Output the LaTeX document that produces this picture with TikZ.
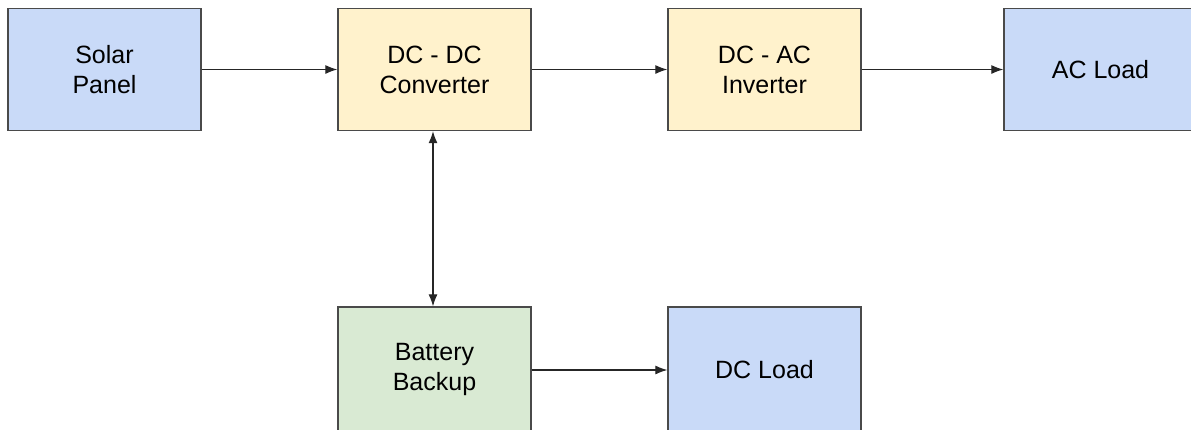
\documentclass[tikz,border=0pt]{standalone}
\usepackage{fontspec}
\setmainfont{Liberation Sans}
\usetikzlibrary{arrows.meta}
\definecolor{boxblue}{HTML}{C9DAF8}
\definecolor{boxyellow}{HTML}{FFF2CC}
\definecolor{boxgreen}{HTML}{D9EAD3}
\definecolor{edgegray}{HTML}{4A4A4A}
\tikzset{
  block/.style={draw=edgegray, line width=1.3pt, minimum width=193pt, minimum height=122pt,
    inner sep=0pt, align=center, font=\fontsize{25}{30}\selectfont},
  tallblock/.style={block, minimum height=125pt},
  link/.style={draw=black!85, line width=1.1pt, -{Latex[length=12pt,width=9pt]}},
  twoway/.style={draw=black!85, line width=1.1pt, {Latex[length=12pt,width=9pt]}-{Latex[length=12pt,width=9pt]}}
}
\begin{document}
\begin{tikzpicture}[x=1pt,y=-1pt]
\useasboundingbox (0,0) rectangle (1191,429);
\node[block, fill=boxblue]   (solar) at (104.5,69.5)  {Solar\\Panel};
\node[block, fill=boxyellow] (dcdc)  at (434.5,69.5)  {DC - DC\\Converter};
\node[block, fill=boxyellow] (dcac)  at (764.5,69.5)  {DC - AC\\Inverter};
\node[block, fill=boxblue]   (acl)   at (1100.5,69.5) {AC Load};
\node[tallblock, fill=boxgreen] (batt) at (434.5,369.5) {Battery\\Backup};
\node[tallblock, fill=boxblue]  (dcl)  at (764.5,369.5) {DC Load};
\draw[link] (solar.east) -- (dcdc.west);
\draw[link] (dcdc.east) -- (dcac.west);
\draw[link] (dcac.east) -- (acl.west);
\draw[twoway] ([xshift=-1.5pt]dcdc.south) -- ([xshift=-1.5pt]batt.north);
\draw[link] ([yshift=-0.5pt]batt.east) -- ([yshift=-0.5pt]dcl.west);
\end{tikzpicture}
\end{document}
